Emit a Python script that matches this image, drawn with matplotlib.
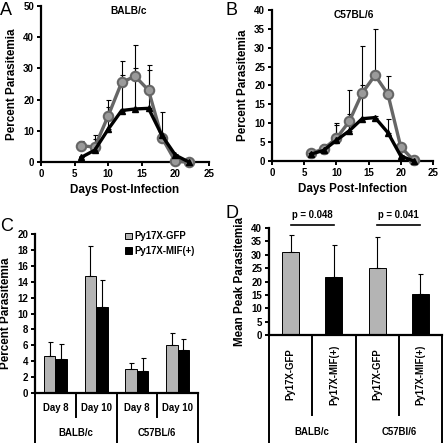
import numpy as np
import matplotlib
matplotlib.use('Agg')
import matplotlib.pyplot as plt

plt.rcParams['font.family'] = ['Liberation Sans', 'DejaVu Sans']
plt.rcParams['font.weight'] = 'bold'

# ---------------- data ----------------
days = [6, 8, 10, 12, 14, 16, 18, 20, 22]

balb_gfp = [5.2, 4.8, 14.8, 25.5, 27.5, 23.0, 7.8, 0.2, 0.0]
balb_gfp_err = [1.5, 3.7, 5.2, 6.8, 10.0, 8.2, 8.2, 0.0, 0.0]
balb_mif = [1.5, 3.8, 10.5, 16.5, 17.0, 17.2, 8.5, 2.2, 0.0]
balb_mif_err = [0.0, 3.7, 7.0, 11.3, 13.0, 12.3, 0.5, 0.3, 0.0]

c57_gfp = [2.0, 3.2, 6.0, 10.5, 18.0, 22.7, 17.7, 3.7, 0.2]
c57_gfp_err = [0.7, 1.3, 4.0, 8.2, 12.5, 12.3, 4.9, 0.3, 0.0]
c57_mif = [1.8, 2.8, 5.5, 8.0, 11.2, 11.5, 7.5, 1.3, 0.0]
c57_mif_err = [0.2, 1.0, 4.0, 4.5, 8.8, 0.5, 3.5, 0.2, 0.0]

# panel C
day_labels = ['Day 8', 'Day 10', 'Day 8', 'Day 10']
group_labels = ['BALB/c', 'C57BL/6']
c_gfp = [4.7, 14.7, 3.0, 6.0]
c_gfp_err = [1.7, 3.8, 0.8, 1.6]
c_mif = [4.3, 10.8, 2.8, 5.4]
c_mif_err = [1.9, 3.4, 1.6, 1.4]

# panel D
d_labels = ['Py17X-GFP', 'Py17X-MIF(+)', 'Py17X-GFP', 'Py17X-MIF(+)']
d_groups = ['BALB/c', 'C57Bl/6']
d_vals = [31.0, 21.5, 25.0, 15.2]
d_err = [6.5, 12.0, 11.5, 7.7]
p_texts = ['p = 0.048', 'p = 0.041']

GRAY_BAR = '#b4b4b4'
GRAY_LINE = '#666666'

W, H = 448, 443
fig = plt.figure(figsize=(W / 100, H / 100), dpi=100)


def add_ax(left, top, right, bottom):
    return fig.add_axes([left / W, 1 - bottom / H, (right - left) / W, (bottom - top) / H])


def style(ax):
    for s in ['top', 'right']:
        ax.spines[s].set_visible(False)
    for s in ['left', 'bottom']:
        ax.spines[s].set_linewidth(1.6)
    ax.tick_params(width=1.4, length=3, labelsize=7, pad=2)
    for lab in ax.get_xticklabels() + ax.get_yticklabels():
        lab.set_fontweight('bold')


def line_panel(ax, gfp, gfp_err, mif, mif_err, ymax, ystep, title, tx):
    z = np.zeros(len(days))
    ax.errorbar(days, gfp, yerr=[z, gfp_err], fmt='none', ecolor='black',
                elinewidth=0.8, capsize=1.8, capthick=0.8, zorder=2)
    ax.errorbar(days, mif, yerr=[z, mif_err], fmt='none', ecolor='black',
                elinewidth=0.8, capsize=1.8, capthick=0.8, zorder=2)
    ax.plot(days, gfp, color=GRAY_LINE, lw=2.4, marker='o', ms=6.8,
            mfc='#9a9a9a', mec=GRAY_LINE, mew=1.5, zorder=3, clip_on=False)
    ax.plot(days, mif, color='black', lw=2.4, marker='^', ms=5,
            mfc='black', mec='black', zorder=4, clip_on=False)
    ax.set_xlim(0, 25)
    ax.set_ylim(0, ymax)
    ax.set_xticks(range(0, 26, 5))
    ax.set_yticks(range(0, ymax + 1, ystep))
    ax.set_xlabel('Days Post-Infection', fontsize=8.4, fontweight='bold', labelpad=4)
    ax.set_ylabel('Percent Parasitemia', fontsize=8.4, fontweight='bold', labelpad=4)
    ax.text(tx, 1.0, title, transform=ax.transAxes, ha='center', va='top',
            fontsize=7.3, fontweight='bold')
    style(ax)


# ---------------- A ----------------
axA = add_ax(41, 6, 209, 162)
line_panel(axA, balb_gfp, balb_gfp_err, balb_mif, balb_mif_err, 50, 10, 'BALB/c', 0.52)
fig.text(0 / W, 1 - 2 / H, 'A', fontsize=13, fontweight='normal', va='top', ha='left')

# ---------------- B ----------------
axB = add_ax(272, 10, 433, 161)
line_panel(axB, c57_gfp, c57_gfp_err, c57_mif, c57_mif_err, 40, 5, 'C57BL/6', 0.51)
fig.text(225 / W, 1 - 2 / H, 'B', fontsize=13, fontweight='normal', va='top', ha='left')

# ---------------- C ----------------
axC = add_ax(35, 234, 198, 393)
x = np.arange(4) + 0.5
bw = 0.28
axC.bar(x - bw / 2, c_gfp, bw, color=GRAY_BAR, edgecolor='black', lw=0.7,
        yerr=[np.zeros(4), c_gfp_err], error_kw=dict(elinewidth=0.8, capsize=1.8, capthick=0.8),
        label='Py17X-GFP')
axC.bar(x + bw / 2, c_mif, bw, color='black', edgecolor='black', lw=0.7,
        yerr=[np.zeros(4), c_mif_err], error_kw=dict(elinewidth=0.8, capsize=1.8, capthick=0.8),
        label='Py17X-MIF(+)')
axC.set_xlim(0, 4)
axC.set_ylim(0, 20)
axC.set_yticks(range(0, 21, 2))
axC.set_xticks([])
axC.set_ylabel('Percent Parasitemia', fontsize=8.4, fontweight='bold', labelpad=4)
style(axC)
leg = axC.legend(loc='upper left', bbox_to_anchor=(0.53, 1.04), frameon=False,
                 fontsize=6.9, handlelength=0.7, handleheight=0.7, handletextpad=0.3,
                 labelspacing=0.45, borderaxespad=0)
for t in leg.get_texts():
    t.set_fontweight('bold')

# category table under C
trC = axC.get_xaxis_transform()
for i, lab in enumerate(day_labels):
    axC.text(x[i], -0.094, lab, transform=trC, ha='center', va='center',
             fontsize=6.9, fontweight='bold')
for i, lab in enumerate(group_labels):
    axC.text(2 * i + 1, -0.252, lab, transform=trC, ha='center', va='center',
             fontsize=6.9, fontweight='bold')
for b in [0, 2, 4]:
    axC.plot([b, b], [0, -0.32], transform=trC, color='black', lw=1.4, clip_on=False)
for b in [1, 3]:
    axC.plot([b, b], [0, -0.15], transform=trC, color='black', lw=1.4, clip_on=False)
fig.text(0 / W, 1 - 218 / H, 'C', fontsize=13, fontweight='normal', va='top', ha='left')

# ---------------- D ----------------
axD = add_ax(269, 228, 442, 335)
xd = np.arange(4) + 0.5
bwd = 0.39
axD.bar(xd, d_vals, bwd, color=[GRAY_BAR, 'black', GRAY_BAR, 'black'],
        edgecolor='black', lw=0.7,
        yerr=[np.zeros(4), d_err], error_kw=dict(elinewidth=0.8, capsize=1.8, capthick=0.8))
axD.set_xlim(0, 4)
axD.set_ylim(0, 40)
axD.set_yticks(range(0, 41, 5))
axD.set_xticks([])
axD.set_ylabel('Mean Peak Parasitemia', fontsize=8.4, fontweight='bold', labelpad=4)
style(axD)

trD = axD.get_xaxis_transform()
for i, lab in enumerate(d_labels):
    axD.text(xd[i], -0.37, lab, transform=trD, ha='center', va='center',
             rotation=90, fontsize=6.9, fontweight='bold')
for i, lab in enumerate(d_groups):
    axD.text(2 * i + 1, -0.91, lab, transform=trD, ha='center', va='center',
             fontsize=6.9, fontweight='bold')
for b in [0, 2, 4]:
    axD.plot([b, b], [0, -1.02], transform=trD, color='black', lw=1.4, clip_on=False)
for b in [1, 3]:
    axD.plot([b, b], [0, -0.75], transform=trD, color='black', lw=1.4, clip_on=False)

# significance bars
for i, txt in enumerate(p_texts):
    x0, x1 = xd[2 * i], xd[2 * i + 1]
    axD.plot([x0, x1], [41.2, 41.2], color='black', lw=1.2, clip_on=False)
    axD.text((x0 + x1) / 2, 43.0, txt, ha='center', va='bottom',
             fontsize=6.9, fontweight='bold')
fig.text(225 / W, 1 - 205 / H, 'D', fontsize=13, fontweight='normal', va='top', ha='left')

fig.savefig('out.png', dpi=100)
